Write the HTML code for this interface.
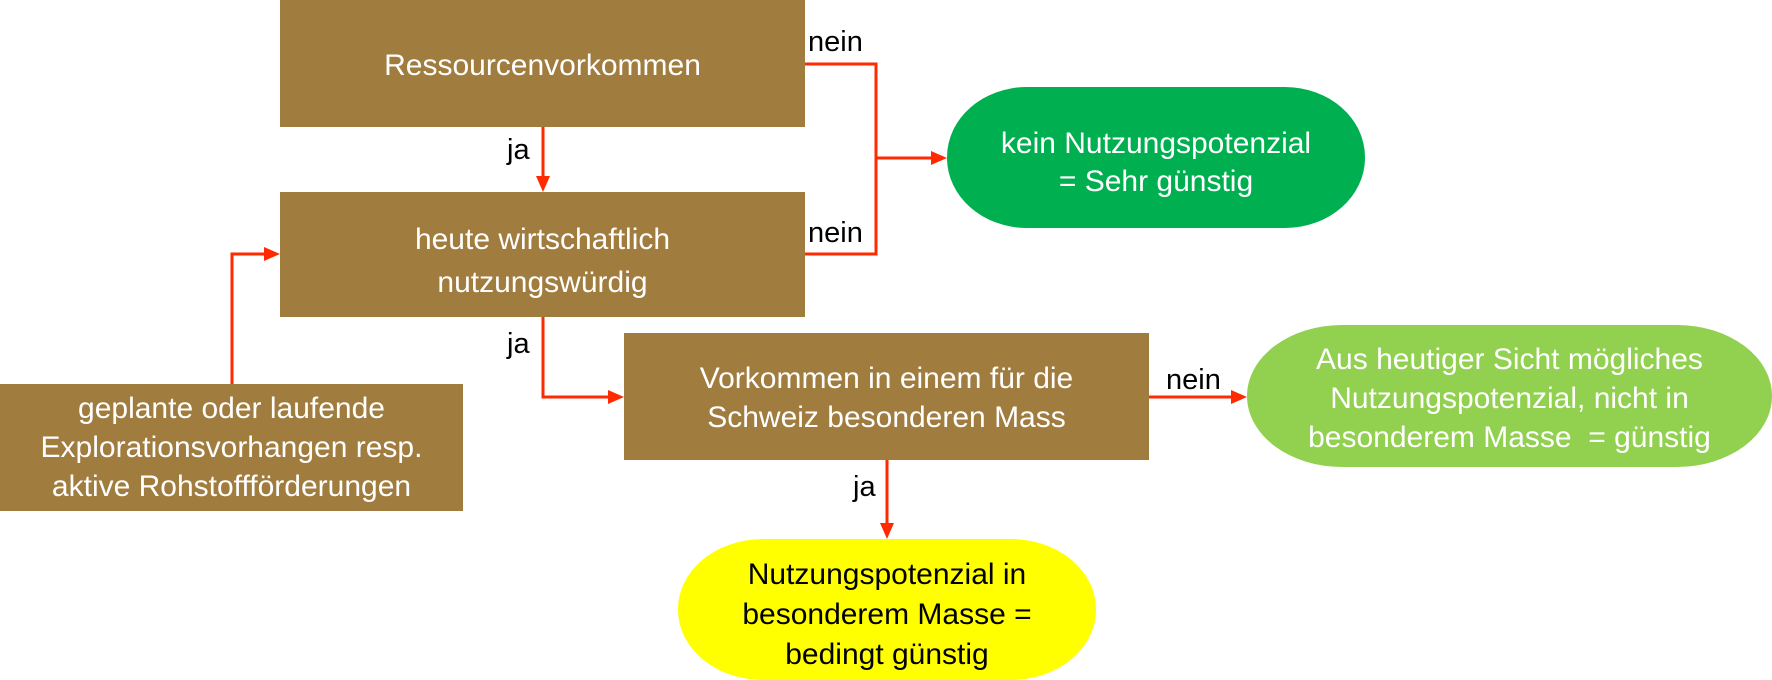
<!DOCTYPE html>
<html><head><meta charset="utf-8"><style>
body{margin:0;width:1772px;height:680px;background:#fff;position:relative;overflow:hidden;font-family:"Liberation Sans",Arial,sans-serif}
.b{position:absolute;background:#A07C3E;color:#fff;display:flex;align-items:center;justify-content:center;text-align:center;font-size:30px;line-height:43px;box-sizing:border-box}
.p{position:absolute;color:#fff;display:flex;align-items:center;justify-content:center;text-align:center;font-size:30px;line-height:39px;box-sizing:border-box}
.l{position:absolute;font-size:29px;color:#000}
</style></head><body>
<div class="b" style="left:280px;top:0;width:525px;height:127px;padding-top:4px">Ressourcenvorkommen</div>
<div class="b" style="left:280px;top:192px;width:525px;height:125px;padding-top:12px">heute wirtschaftlich<br>nutzungswürdig</div>
<div class="b" style="left:0;top:384px;width:463px;height:127px;line-height:39px">geplante oder laufende<br>Explorationsvorhangen resp.<br>aktive Rohstoffförderungen</div>
<div class="b" style="left:624px;top:333px;width:525px;height:127px;line-height:39px;padding-top:3px">Vorkommen in einem für die<br>Schweiz besonderen Mass</div>
<div class="p" style="left:947px;top:87px;width:418px;height:141px;background:#00B050;border-radius:80px/70px;line-height:38px;padding-top:10px">kein Nutzungspotenzial<br>= Sehr günstig</div>
<div class="p" style="left:1247px;top:325px;width:525px;height:142px;background:#92D050;border-radius:95px/71px;padding-top:4px">Aus heutiger Sicht mögliches<br>Nutzungspotenzial, nicht in<br>besonderem Masse &nbsp;= günstig</div>
<div class="p" style="left:678px;top:539px;width:418px;height:141px;background:#FFFF00;color:#000;border-radius:85px/70px;line-height:40px;padding-top:10px">Nutzungspotenzial in<br>besonderem Masse =<br>bedingt günstig</div>
<svg style="position:absolute;left:0;top:0" width="1772" height="680">
<g stroke="#FF2A00" stroke-width="3" fill="none">
<polyline points="805,64 876,64 876,254 805,254"/>
<line x1="876" y1="158" x2="932" y2="158"/>
<line x1="543" y1="127" x2="543" y2="177"/>
<polyline points="543,317 543,397 610,397"/>
<polyline points="232,384 232,254 266,254"/>
<line x1="1149" y1="397" x2="1232" y2="397"/>
<line x1="887" y1="460" x2="887" y2="524"/>
</g>
<g fill="#FF2A00">
<polygon points="947,158 931,151 931,165"/>
<polygon points="543,192 536,176 550,176"/>
<polygon points="624,397 608,390 608,404"/>
<polygon points="280,254 264,247 264,261"/>
<polygon points="1247,397 1231,390 1231,404"/>
<polygon points="887,539 880,523 894,523"/>
</g></svg>
<div class="l" style="left:808px;top:26px">nein</div>
<div class="l" style="left:808px;top:217px">nein</div>
<div class="l" style="left:507px;top:134px">ja</div>
<div class="l" style="left:507px;top:328px">ja</div>
<div class="l" style="left:1166px;top:364px">nein</div>
<div class="l" style="left:853px;top:471px">ja</div>
</body></html>
